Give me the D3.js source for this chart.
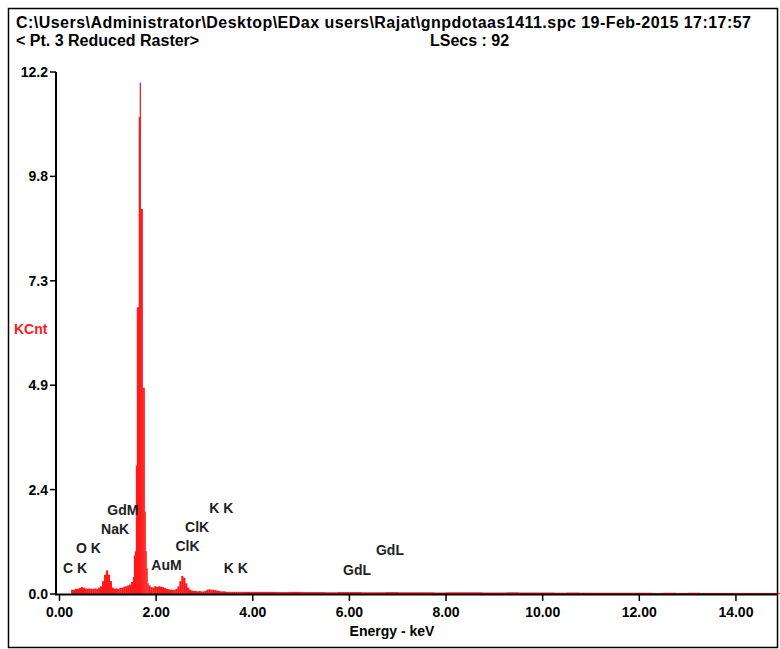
<!DOCTYPE html>
<html><head><meta charset="utf-8">
<script src="https://cdn.jsdelivr.net/npm/d3@7"></script>
<style>body{margin:0;background:#fff}</style></head>
<body><svg id="c" width="780" height="649"></svg>
<script>
// Spectrum segments: bin start energy (keV), bin width, counts (KCnt)
const lowStart = 0.24, lowStep = 0.04;
const lowCounts = [0.1,0.1,0.12,0.12,0.14,0.16,0.15,0.13,0.12,0.13,0.12,0.12,0.13,0.12,0.15,0.18,0.3,0.45,0.55,0.45,0.3,0.15,0.12,0.13,0.12,0.14,0.15,0.17,0.18,0.2,0.22,0.28];
const peakStart = 1.52, peakStep = 0.02;
const peakCounts = [0.4,0.9,1.0,3.0,6.7,6.7,11.15,11.95,9.0,9.0,4.82,4.82,1.93,1.0,0.6,0.25];
const midStart = 1.84, midStep = 0.04;
const midCounts = [0.2,0.16,0.15,0.18,0.17,0.18,0.17,0.16,0.14,0.12,0.11,0.1,0.1,0.1,0.12,0.18,0.3,0.42,0.38,0.25,0.15,0.1,0.08,0.07,0.07,0.06,0.07,0.06,0.06,0.07,0.1,0.11,0.1,0.1,0.09,0.08,0.07,0.06,0.06,0.06,0.05,0.05,0.05,0.05,0.05,0.05,0.05,0.05,0.05,0.05,0.05,0.05,0.05,0.05];
const highStart = 4.0, highStep = 0.25;
const highCounts = [0.05,0.05,0.045,0.05,0.045,0.045,0.04,0.045,0.045,0.04,0.04,0.045,0.04,0.04,0.04,0.035,0.04,0.04,0.04,0.035,0.035,0.04,0.035,0.035,0.035,0.03,0.035,0.03,0.03,0.03,0.03,0.03,0.03,0.025,0.03,0.025,0.03,0.025,0.025,0.025,0.025,0.025,0.025,0.025];
const yTicks = [0, 2.44, 4.88, 7.32, 9.76, 12.2];
const yTickLabels = ["0.0","2.4","4.9","7.3","9.8","12.2"];
const xTicks = [0,2,4,6,8,10,12,14];
const peakLabels = [
 {t:"C K",e:0.07,v:0.5},{t:"O K",e:0.34,v:0.95},{t:"GdM",e:0.99,v:1.85},{t:"NaK",e:0.86,v:1.4},
 {t:"AuM",e:1.9,v:0.55},{t:"ClK",e:2.4,v:1.0},{t:"ClK",e:2.6,v:1.45},{t:"K K",e:3.1,v:1.9},
 {t:"K K",e:3.4,v:0.5},{t:"GdL",e:5.87,v:0.45},{t:"GdL",e:6.55,v:0.9}];

const bins=[];
function addSeg(s,st,arr){arr.forEach((v,i)=>bins.push({e:+(s+i*st).toFixed(3),w:st,v}));}
addSeg(lowStart,lowStep,lowCounts);addSeg(peakStart,peakStep,peakCounts);
addSeg(midStart,midStep,midCounts);addSeg(highStart,highStep,highCounts);

const svg=d3.select("#c");
svg.append("rect").attr("x",8.5).attr("y",8.5).attr("width",769).attr("height",639).attr("fill","none").attr("stroke","#000").attr("stroke-width",1.5);
const x=d3.scaleLinear().domain([0,14.85]).range([59.5,777]);
const y=d3.scaleLinear().domain([0,12.2]).range([594,72]);
const F="'Liberation Sans Narrow','Liberation Sans',Arial,sans-serif";
svg.append("text").attr("x",16).attr("y",28).attr("font-family",F).attr("font-weight","bold").attr("font-size",16)
 .attr("textLength",735).text("C:\\Users\\Administrator\\Desktop\\EDax users\\Rajat\\gnpdotaas1411.spc  19-Feb-2015 17:17:57");
svg.append("text").attr("x",16).attr("y",46).attr("font-family",F).attr("font-weight","bold").attr("font-size",16).text("< Pt.  3 Reduced Raster>");
svg.append("text").attr("x",430).attr("y",46).attr("font-family",F).attr("font-weight","bold").attr("font-size",16).text("LSecs :  92");

svg.append("g").selectAll("rect").data(bins).join("rect")
 .attr("x",d=>x(d.e)).attr("width",d=>x(d.e+d.w)-x(d.e)+0.3)
 .attr("y",d=>y(d.v)).attr("height",d=>594-y(d.v)).attr("fill","#ff1a1a");

const A="'Liberation Sans',Arial,sans-serif";
svg.append("line").attr("x1",56).attr("x2",56).attr("y1",72).attr("y2",595).attr("stroke","#000").attr("stroke-width",2);
svg.append("line").attr("x1",55).attr("x2",778).attr("y1",594.5).attr("y2",594.5).attr("stroke","#000").attr("stroke-width",2);
const yg=svg.append("g");
yTicks.forEach((t,i)=>{
 yg.append("line").attr("x1",50).attr("x2",56).attr("y1",y(t)).attr("y2",y(t)).attr("stroke","#000").attr("stroke-width",1.5);
 yg.append("text").attr("x",48).attr("y",y(t)+5).attr("text-anchor","end").attr("font-family",A).attr("font-weight","bold").attr("font-size",14).text(yTickLabels[i]);
});
svg.append("text").attr("x",14).attr("y",334).attr("font-family",A).attr("font-weight","bold").attr("font-size",14).attr("fill","#ff1a1a").text("KCnt");
xTicks.forEach(t=>{
 svg.append("line").attr("x1",x(t)).attr("x2",x(t)).attr("y1",594).attr("y2",601).attr("stroke","#000").attr("stroke-width",1.5);
 svg.append("text").attr("x",x(t)).attr("y",617).attr("text-anchor","middle").attr("font-family",A).attr("font-weight","bold").attr("font-size",14).text(t.toFixed(2));
});
svg.append("text").attr("x",392).attr("y",636).attr("text-anchor","middle").attr("font-family",A).attr("font-weight","bold").attr("font-size",14).text("Energy - keV");
peakLabels.forEach(p=>{
 svg.append("text").attr("x",x(p.e)).attr("y",y(p.v)).attr("font-family",A).attr("font-weight","bold").attr("font-size",14).attr("fill","#222").text(p.t);
});
</script></body></html>
